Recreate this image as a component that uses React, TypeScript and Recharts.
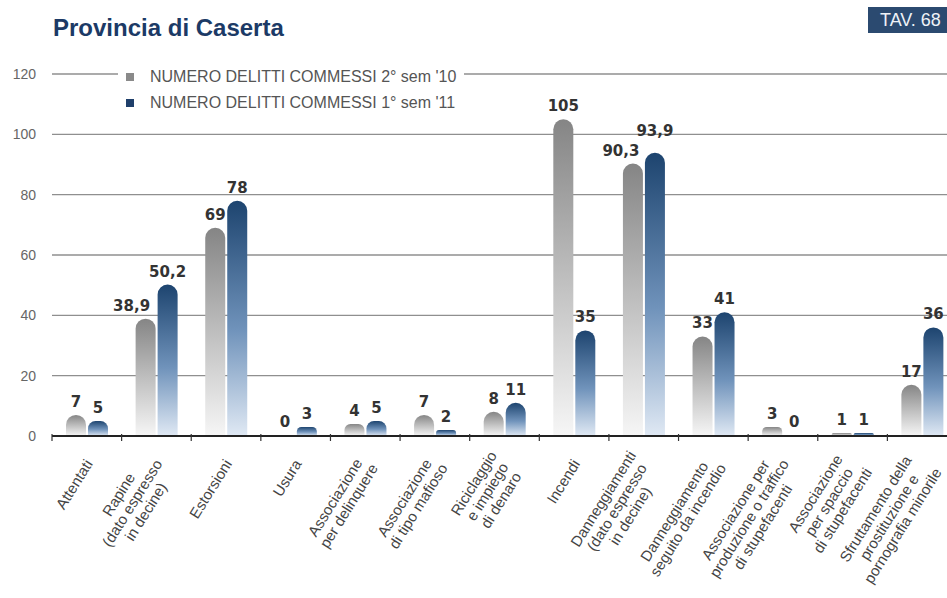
import React from 'react'
import { BarChart, Bar, XAxis, YAxis, CartesianGrid, LabelList } from 'recharts'

const categories = [
  'Attentati',
  'Rapine',
  'Estorsioni',
  'Usura',
  'Associazione per delinquere',
  'Associazione di tipo mafioso',
  'Riciclaggio e impiego di denaro',
  'Incendi',
  'Danneggiamenti',
  'Danneggiamento seguito da incendio',
  'Associazione per produzione o traffico di stupefacenti',
  'Associazione per spaccio di stupefacenti',
  'Sfruttamento della prostituzione e pornografia minorile',
]

const tickLabels = [
  ['Attentati'],
  ['Rapine', '(dato espresso', 'in decine)'],
  ['Estorsioni'],
  ['Usura'],
  ['Associazione', 'per delinquere'],
  ['Associazione', 'di tipo mafioso'],
  ['Riciclaggio', 'e impiego', 'di denaro'],
  ['Incendi'],
  ['Danneggiamenti', '(dato espresso', 'in decine)'],
  ['Danneggiamento', 'seguito da incendio'],
  ['Associazione per', 'produzione o traffico', 'di stupefacenti'],
  ['Associazione', 'per spaccio', 'di stupefacenti'],
  ['Sfruttamento della', 'prostituzione e', 'pornografia minorile'],
]

const sem2_10 = [7, 38.9, 69, 0, 4, 7, 8, 105, 90.3, 33, 3, 1, 17]
const sem1_11 = [5, 50.2, 78, 3, 5, 2, 11, 35, 93.9, 41, 0, 1, 36]

const yTicks = [0, 20, 40, 60, 80, 100, 120]

const seriesNames = ["NUMERO DELITTI COMMESSI 2° sem '10", "NUMERO DELITTI COMMESSI 1° sem '11"]

const data = categories.map((name, i) => ({ name, a: sem2_10[i], b: sem1_11[i] }))

// small hand nudges for labels that would collide (dx, dy)
const nudgeA: Record<number, [number, number]> = { 1: [-14, 0], 8: [-12, 0] }
const nudgeB: Record<number, [number, number]> = { 8: [0, -9] }

const CHART_W = 960
const CHART_H = 598
const MARGIN = { top: 74, right: 3, left: 12, bottom: 2 }
const Y_W = 40
const BAND = (CHART_W - MARGIN.left - MARGIN.right - Y_W) / categories.length
const TICK_SIZE = 15
const TICK_FONT = `${TICK_SIZE}px 'Liberation Sans'`
const LH = 16
const FONT = "'Liberation Sans', Arial, sans-serif"

let ctx: CanvasRenderingContext2D | null = null
const measure = (s: string) => {
  if (!ctx) ctx = document.createElement('canvas').getContext('2d')
  if (!ctx) return s.length * 7.5
  ctx.font = TICK_FONT
  return ctx.measureText(s).width
}

const fmt = (v: any) => String(v).replace('.', ',')

const XTick = (props: any) => {
  const { x, y, payload } = props
  const idx = categories.indexOf(payload.value)
  const lines = tickLabels[idx] || [payload.value]
  const maxW = Math.max(...lines.map(measure))
  const n = lines.length
  return (
    <g>
      <line x1={x - BAND / 2} x2={x - BAND / 2} y1={y - 2} y2={y + 5} stroke="#333" strokeWidth={1.2} />
      {idx === categories.length - 1 && (
        <line x1={x + BAND / 2} x2={x + BAND / 2} y1={y - 2} y2={y + 5} stroke="#333" strokeWidth={1.2} />
      )}
      <g transform={`translate(${x + 2},${y + 25}) rotate(-58)`}>
        {lines.map((l, i) => (
          <text
            key={i}
            x={-maxW / 2}
            y={(i - (n - 1) / 2) * LH}
            dy="0.35em"
            textAnchor="middle"
            fill="#444"
            fontSize={TICK_SIZE}
            fontFamily={FONT}
          >
            {l}
          </text>
        ))}
      </g>
    </g>
  )
}

const makeLabel = (nudge: Record<number, [number, number]>) => (props: any) => {
  const { x, y, width, value, index } = props
  const [dx, dy] = nudge[index] || [0, 0]
  return (
    <text
      x={x + width / 2 + dx}
      y={y - 8 + dy}
      textAnchor="middle"
      fill="#333"
      fontSize={15}
      fontWeight="bold"
      fontFamily="'DejaVu Sans', sans-serif"
    >
      {fmt(value)}
    </text>
  )
}

export default function App() {
  return (
    <div style={{ position: 'fixed', left: 0, top: 0, width: 947, height: 598, overflow: 'hidden', background: '#fff' }}>
      <div
        style={{
          position: 'absolute', left: 53, top: 16, fontSize: 24, fontWeight: 'bold',
          color: '#1c3a66', fontFamily: FONT, lineHeight: '24px',
        }}
      >
        Provincia di Caserta
      </div>
      <div
        style={{
          position: 'absolute', left: 868, top: 7, width: 90, height: 26, background: '#2b4a70',
          color: '#eef2f7', fontSize: 18, lineHeight: '26px', paddingLeft: 12, boxSizing: 'border-box',
          fontFamily: FONT,
        }}
      >
        TAV. 68
      </div>
      <BarChart width={CHART_W} height={CHART_H} data={data} margin={MARGIN} barGap={2}>
        <defs>
          <linearGradient id="gGray" x1="0" y1="0" x2="0" y2="1">
            <stop offset="0%" stopColor="#858585" />
            <stop offset="55%" stopColor="#c4c4c4" />
            <stop offset="100%" stopColor="#f6f6f6" />
          </linearGradient>
          <linearGradient id="gBlue" x1="0" y1="0" x2="0" y2="1">
            <stop offset="0%" stopColor="#1d446f" />
            <stop offset="55%" stopColor="#7093bb" />
            <stop offset="100%" stopColor="#e0e9f4" />
          </linearGradient>
        </defs>
        <CartesianGrid vertical={false} stroke="#8f8f8f" strokeWidth={1.3} />
        <XAxis
          dataKey="name"
          interval={0}
          height={160}
          tickSize={0}
          tickMargin={0}
          tickLine={false}
          axisLine={{ stroke: '#222', strokeWidth: 2 }}
          tick={<XTick />}
        />
        <YAxis
          width={Y_W}
          domain={[0, 120]}
          ticks={yTicks}
          axisLine={false}
          tickLine={false}
          tickSize={0}
          tickMargin={16}
          tick={{ fill: '#666', fontSize: 14, fontFamily: FONT }}
        />
        <Bar dataKey="a" name={seriesNames[0]} fill="url(#gGray)" barSize={20} minPointSize={1} radius={[10, 10, 0, 0]} isAnimationActive={false}>
          <LabelList dataKey="a" content={makeLabel(nudgeA)} />
        </Bar>
        <Bar dataKey="b" name={seriesNames[1]} fill="url(#gBlue)" barSize={20} minPointSize={1} radius={[10, 10, 0, 0]} isAnimationActive={false}>
          <LabelList dataKey="b" content={makeLabel(nudgeB)} />
        </Bar>
      </BarChart>
      <div style={{ position: 'absolute', left: 118, top: 64, background: '#fff', padding: '0 8px', fontFamily: FONT }}>
        {seriesNames.map((s, i) => (
          <div key={s} style={{ display: 'flex', alignItems: 'center', height: 26 }}>
            <span style={{ width: 8, height: 8, background: i === 0 ? '#8a8a8a' : '#1f3f6b', marginRight: 16 }} />
            <span style={{ fontSize: 16, color: '#555', whiteSpace: 'nowrap' }}>{s}</span>
          </div>
        ))}
      </div>
    </div>
  )
}
